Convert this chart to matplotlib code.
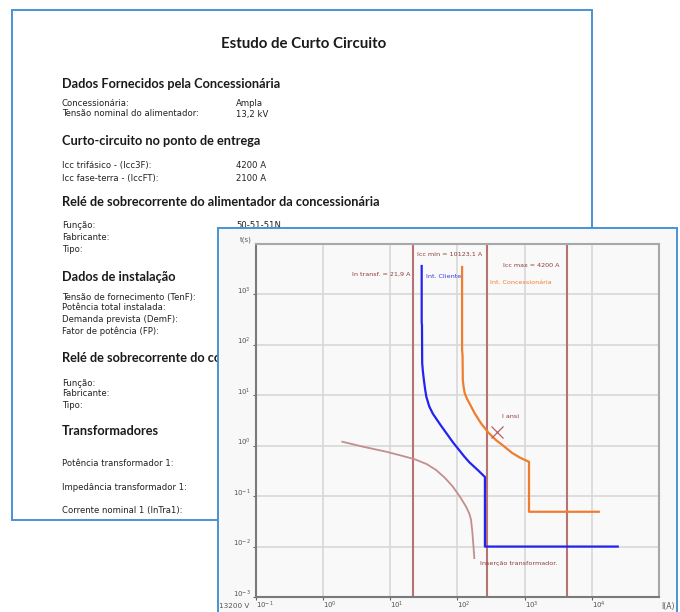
import matplotlib.pyplot as plt
from matplotlib.patches import Rectangle

W, H = 680, 612

def fx(x):
    return x / W

def fy(y):
    return 1 - y / H

# --- documento (texto de fundo) ---
titulo = "Estudo de Curto Circuito"
cabecalhos = ["Dados Fornecidos pela Concessionária",
              "Curto-circuito no ponto de entrega",
              "Relé de sobrecorrente do alimentador da concessionária",
              "Dados de instalação",
              "Relé de sobrecorrente do consumidor",
              "Transformadores"]
cabecalhos_y = [84, 141, 202, 277, 358, 431]
itens = ["Concessionária:", "Tensão nominal do alimentador:",
         "Icc trifásico - (Icc3F):", "Icc fase-terra - (IccFT):",
         "Função:", "Fabricante:", "Tipo:",
         "Tensão de fornecimento (TenF):", "Potência total instalada:",
         "Demanda prevista (DemF):", "Fator de potência (FP):",
         "Função:", "Fabricante:", "Tipo:",
         "Potência transformador 1:", "Impedância transformador 1:",
         "Corrente nominal 1 (InTra1):"]
itens_y = [103, 114, 166, 178, 226, 238, 250, 297, 308, 319, 331,
           383, 394, 406, 463, 487, 510]
valores = ["Ampla", "13,2 kV", "4200 A", "2100 A", "50-51-51N"]
valores_y = [103, 114, 166, 178, 226]

# --- coordenograma ---
cli_i = [29.3, 29.3, 29.6, 29.8, 30.5, 31.6, 33, 34.4, 38, 43, 50, 58, 68,
         85, 100, 125, 150, 200, 256, 256, 24300]
cli_t = [3660, 271, 250, 44, 30, 20, 13, 9.3, 6.0, 4.3, 3.2, 2.4, 1.79,
         1.18, 0.9, 0.62, 0.47, 0.33, 0.24, 0.01, 0.01]
con_i = [117, 117, 119, 120, 123, 128, 138, 150, 180, 223, 290, 372, 480,
         650, 850, 1160, 1160, 12700]
con_t = [3500, 79, 60, 20, 15, 11, 8.6, 7.0, 4.4, 2.8, 1.8, 1.3, 1.0,
         0.72, 0.58, 0.48, 0.049, 0.049]
ins_i = [1.93, 4, 8.7, 15, 23, 35, 48, 65, 85, 110, 134, 150, 159, 166, 172, 178]
ins_t = [1.2, 0.95, 0.76, 0.63, 0.54, 0.43, 0.33, 0.23, 0.155, 0.095, 0.062,
         0.045, 0.034, 0.02, 0.011, 0.0059]
verticais = [21.9, 277, 4200]
ansi_i, ansi_t = 385, 1.9
x_ticks = [1e-1, 1e0, 1e1, 1e2, 1e3, 1e4]
y_ticks = [1e-3, 1e-2, 1e-1, 1e0, 1e1, 1e2, 1e3]

azul = '#4a93d6'
vermelho = '#b87272'
texto_vm = '#8e3a3a'

fig = plt.figure(figsize=(6.8, 6.12), dpi=100)

fig.patches.append(Rectangle((fx(12), fy(520)), fx(592) - fx(12), fy(10) - fy(520),
                             transform=fig.transFigure, fill=False,
                             ec=azul, lw=1.4, zorder=1))

fig.text(fx(304), fy(44), titulo, family='Lato', weight='bold', fontsize=10.8,
         ha='center', va='center', color='#1a1a1a')
for txt, y in zip(cabecalhos, cabecalhos_y):
    fig.text(fx(62), fy(y), txt, family='Lato', weight='bold', fontsize=9.2,
             va='center', color='#1a1a1a')
for txt, y in zip(itens, itens_y):
    fig.text(fx(62), fy(y), txt, family='DejaVu Sans', fontsize=6.1,
             va='center', color='#222222')
for txt, y in zip(valores, valores_y):
    fig.text(fx(236), fy(y), txt, family='DejaVu Sans', fontsize=6.1,
             va='center', color='#222222')

# painel do grafico por cima do documento
painel = fig.add_axes([fx(218), fy(616), fx(677) - fx(218), fy(228) - fy(616)], zorder=5)
painel.set_facecolor('#f8f8f8')
painel.set_xticks([])
painel.set_yticks([])
for s in painel.spines.values():
    s.set_color(azul)
    s.set_linewidth(1.4)

ax = fig.add_axes([fx(256), fy(597), fx(659) - fx(256), fy(244) - fy(597)], zorder=6)
ax.set_facecolor('#f9f9f9')
ax.set_xscale('log')
ax.set_yscale('log')
ax.set_xlim(1e-1, 1e5)
ax.set_ylim(1e-3, 1e4)
ax.set_xticks(x_ticks)
ax.set_yticks(y_ticks)
ax.minorticks_off()
ax.set_axisbelow(True)
ax.grid(True, color='#d8d8d8', lw=1.2)
ax.tick_params(labelsize=5, length=2, width=0.8, color='#666666',
               labelcolor='#555555', pad=2)
ax.tick_params(axis='x', pad=0.3)
for lab in ax.get_xticklabels():
    lab.set_ha('left')
for lab in ax.get_yticklabels():
    lab.set_va('baseline')
for side in ['left', 'bottom']:
    ax.spines[side].set_color('#7a7a7a')
    ax.spines[side].set_linewidth(1.5)
for side in ['top', 'right']:
    ax.spines[side].set_color('#a8a8a8')
    ax.spines[side].set_linewidth(1.5)

for v in verticais:
    ax.axvline(v, color=vermelho, lw=1.5, zorder=2)

ax.plot(ins_i, ins_t, color='#c48e8e', lw=1.3, zorder=3)
ax.plot(cli_i, cli_t, color='#2323f0', lw=1.6, zorder=4)
ax.plot(con_i, con_t, color='#ee7d2e', lw=1.6, zorder=4)
ax.plot([ansi_i], [ansi_t], marker='x', ms=8.5, mew=0.9, color='#b86060', zorder=5)

fs = 4.6
ax.annotate("In transf. = 21,9 A", (verticais[0], 2540), xytext=(-2, 0),
            textcoords='offset points', ha='right', va='center', fontsize=fs, color=texto_vm)
ax.annotate("Icc min = 10123,1 A", (verticais[0], 6330), xytext=(3, 0),
            textcoords='offset points', ha='left', va='center', fontsize=fs, color=texto_vm)
ax.annotate("Icc max = 4200 A", (verticais[2], 3830), xytext=(-5, 0),
            textcoords='offset points', ha='right', va='center', fontsize=fs, color=texto_vm)
ax.annotate("Int. Cliente", (cli_i[0], 2220), xytext=(3, 0),
            textcoords='offset points', ha='left', va='center', fontsize=fs, color='#3535f0')
ax.annotate("Int. Concessionária", (verticais[1], 1690), xytext=(2, 0),
            textcoords='offset points', ha='left', va='center', fontsize=fs, color='#ee7d2e')
ax.annotate("I ansi", (ansi_i, ansi_t), xytext=(4, 11),
            textcoords='offset points', ha='left', va='center', fontsize=fs, color=texto_vm)
ax.annotate("Inserção transformador.", (ins_i[-1], ins_t[-1]), xytext=(4, -4),
            textcoords='offset points', ha='left', va='center', fontsize=fs, color=texto_vm)

ax.text(fx(252), fy(240), "t(s)", transform=fig.transFigure, ha='right', va='center',
        fontsize=5, color='#555555')
ax.text(fx(661), fy(606), "I(A)", transform=fig.transFigure, ha='left', va='center',
        fontsize=5.5, color='#555555')
ax.text(fx(219), fy(606.5), "13200 V", transform=fig.transFigure, ha='left', va='center',
        fontsize=5.2, color='#555555')

fig.savefig('out.png', dpi=100, facecolor='white')
